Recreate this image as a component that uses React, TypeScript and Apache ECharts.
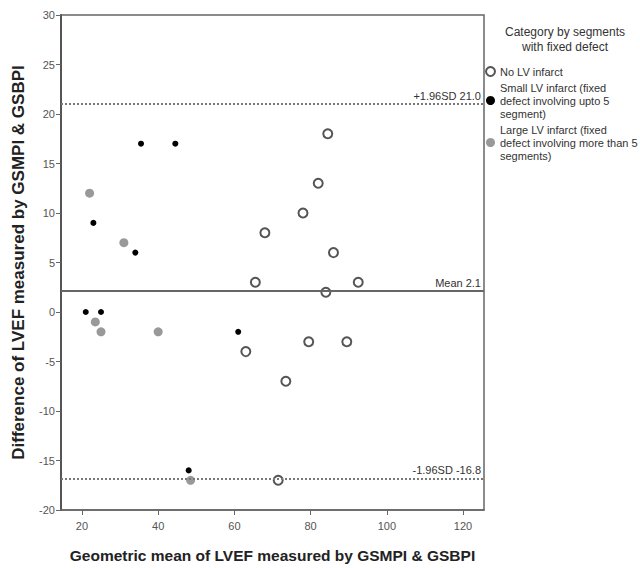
import React, { useEffect, useRef } from "react";
import * as echarts from "echarts";

const xTicks = [20, 40, 60, 80, 100, 120];
const noInfarct = [
  [84.5, 18], [82, 13], [78, 10], [68, 8], [86, 6], [65.5, 3], [92.5, 3], [84, 2],
  [63, -4], [79.5, -3], [89.5, -3], [73.5, -7], [71.5, -17],
];
const smallInfarct = [
  [23, 9], [34, 6], [35.5, 17], [44.5, 17], [21, 0], [25, 0], [61, -2], [48, -16],
];
const largeInfarct = [
  [22, 12], [31, 7], [23.5, -1], [25, -2], [40, -2], [48.5, -17],
];
const upperLimit = 21.0;
const meanDiff = 2.1;
const lowerLimit = -16.8;

const seriesNames = [
  "No LV infarct",
  "Small LV infarct (fixed\ndefect involving upto 5\nsegment)",
  "Large LV infarct (fixed\ndefect involving more than 5\nsegments)",
];

const FONT = "Liberation Sans, Arial, sans-serif";

export default function App() {
  const ref = useRef<HTMLDivElement>(null);
  useEffect(() => {
    const chart = echarts.init(ref.current!, null, { renderer: "svg" });
    chart.setOption({
      animation: false,
      textStyle: { fontFamily: FONT },
      grid: {
        left: 61, top: 15, right: 156, bottom: 54,
        show: true, borderColor: "#666", borderWidth: 1.5, backgroundColor: "#fff",
      },
      graphic: [
        {
          type: "text", x: 565, y: 24,
          style: {
            text: "Category by segments\nwith fixed defect",
            fill: "#333", font: "12px " + FONT, align: "center", lineHeight: 15,
          },
        },
      ],
      legend: {
        orient: "vertical", left: 480, top: 60,
        itemWidth: 9, itemHeight: 9, itemGap: 3,
        textStyle: { fontSize: 11, lineHeight: 13, color: "#333", fontFamily: FONT },
        data: seriesNames.map((n) => ({ name: n, icon: "circle" })),
      },
      xAxis: {
        type: "value", min: 14.5, max: 125.5,
        name: "Geometric mean of LVEF measured by GSMPI & GSBPI",
        nameLocation: "middle", nameGap: 37,
        nameTextStyle: { fontSize: 15.5, fontWeight: "bold", color: "#222", fontFamily: FONT },
        axisLine: { show: true, onZero: false, lineStyle: { color: "#666", width: 1.5 } },
        axisTick: { show: true, length: 5, customValues: xTicks, lineStyle: { color: "#666" } },
        axisLabel: { customValues: xTicks, color: "#555", fontSize: 11, margin: 10 },
        splitLine: { show: false },
      },
      yAxis: {
        type: "value", min: -20, max: 30, interval: 5,
        name: "Difference of LVEF measured by GSMPI & GSBPI",
        nameLocation: "middle", nameGap: 34,
        nameTextStyle: { fontSize: 17, fontWeight: "bold", color: "#222", fontFamily: FONT },
        axisLine: { show: true, onZero: false, lineStyle: { color: "#555", width: 2 } },
        axisTick: { show: true, length: 5, lineStyle: { color: "#666" } },
        axisLabel: { color: "#555", fontSize: 11, margin: 6 },
        splitLine: { show: false },
      },
      series: [
        {
          name: seriesNames[0], type: "scatter", data: noInfarct, symbolSize: 9,
          itemStyle: { color: "#fff", borderColor: "#555", borderWidth: 2, opacity: 1 },
          z: 3,
          markLine: {
            silent: true, symbol: "none",
            label: { position: "insideEndTop", color: "#333", fontSize: 11, fontFamily: FONT, distance: 3 },
            data: [
              { yAxis: upperLimit, lineStyle: { type: "dotted", color: "#777", width: 2 }, label: { formatter: "+1.96SD " + upperLimit.toFixed(1) } },
              { yAxis: meanDiff, lineStyle: { type: "solid", color: "#666", width: 2 }, label: { formatter: "Mean " + meanDiff.toFixed(1) } },
              { yAxis: lowerLimit, lineStyle: { type: "dotted", color: "#777", width: 2 }, label: { formatter: "-1.96SD " + lowerLimit.toFixed(1) } },
            ],
          },
        },
        {
          name: seriesNames[1], type: "scatter", data: smallInfarct, symbolSize: 6,
          itemStyle: { color: "#000", opacity: 1 }, z: 4,
        },
        {
          name: seriesNames[2], type: "scatter", data: largeInfarct, symbolSize: 9,
          itemStyle: { color: "#999", opacity: 1 }, z: 2,
        },
      ],
    });
    return () => chart.dispose();
  }, []);
  return (
    <div
      ref={ref}
      style={{ position: "absolute", left: 0, top: 0, width: 640, height: 568, background: "#fff" }}
    />
  );
}
